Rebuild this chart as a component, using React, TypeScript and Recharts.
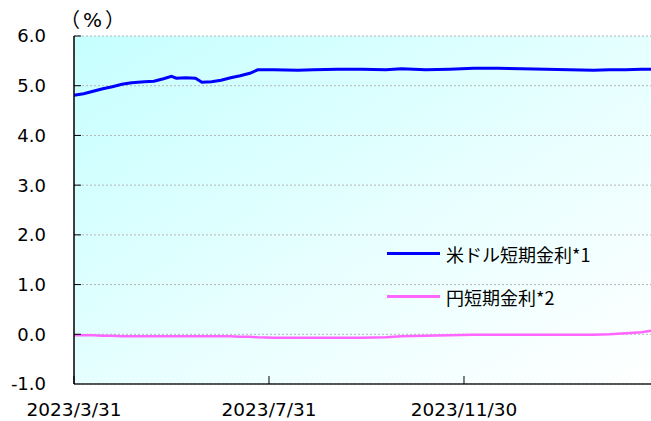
import { CartesianGrid, Legend, Line, LineChart, XAxis, YAxis } from 'recharts';

// Days elapsed since 2023/3/31.
const DAYS = [
  0, 6, 12, 18, 24, 30, 36, 44, 50, 56, 61, 64, 70, 76, 80, 86, 92, 98, 104, 110,
  115, 125, 140, 150, 165, 180, 195, 205, 220, 235, 250, 265, 280, 295, 310, 325,
  335, 345, 355, 361,
];
const USD = [
  4.81, 4.84, 4.89, 4.94, 4.98, 5.03, 5.06, 5.08, 5.09, 5.14, 5.19, 5.15, 5.16, 5.15, 5.07, 5.08, 5.11, 5.16, 5.2, 5.25,
  5.32, 5.32, 5.31, 5.32, 5.33, 5.33, 5.32, 5.34, 5.32, 5.33, 5.35, 5.35, 5.34, 5.33, 5.32, 5.31,
  5.32, 5.32, 5.33, 5.33,
];
const JPY = [
  -0.02, -0.02, -0.02, -0.03, -0.03, -0.04, -0.04, -0.04, -0.04, -0.04, -0.04, -0.04, -0.04, -0.04, -0.04, -0.04, -0.04, -0.04, -0.05, -0.05,
  -0.06, -0.07, -0.07, -0.07, -0.07, -0.07, -0.06, -0.04, -0.03, -0.02, -0.01, -0.01, -0.01, -0.01, -0.01, -0.01,
  0.0, 0.02, 0.04, 0.07,
];
const X_TICKS = [0, 122, 244];
const X_LABELS = ['2023/3/31', '2023/7/31', '2023/11/30'];
const Y_TICKS = [-1, 0, 1, 2, 3, 4, 5, 6];
const SERIES = ['米ドル短期金利*1', '円短期金利*2'];

const BLUE = '#0000ff';
const PINK = '#ff66ff';
const FONT = '"DejaVu Sans", sans-serif';
const JP_FONT = '"Noto Sans CJK JP", sans-serif';

const data = DAYS.map((d, i) => ({ day: d, usd: USD[i], jpy: JPY[i] }));

function YTick({ x, y, payload }: any) {
  return (
    <g>
      {payload.value !== -1 && <line x1={x} x2={x + 7} y1={y} y2={y} stroke="#000" />}
      <text x={x - 28} y={y} dy="0.36em" textAnchor="end" fontSize={18} fontFamily={FONT} fill="#000">
        {Number(payload.value).toFixed(1)}
      </text>
    </g>
  );
}

function XTick({ x, y, payload }: any) {
  const i = X_TICKS.indexOf(payload.value);
  return (
    <g>
      <line x1={x} x2={x} y1={y} y2={y - 8} stroke="#000" />
      <text x={x} y={y + 32} textAnchor="middle" fontSize={18.5} fontFamily={FONT} fill="#000">
        {X_LABELS[i]}
      </text>
    </g>
  );
}

function LegendBox() {
  const row = (name: string, color: string, w: number) => (
    <div key={name} style={{ display: 'flex', alignItems: 'center', height: 43 }}>
      <span style={{ display: 'inline-block', width: 53, height: w, background: color, marginRight: 6 }} />
      <span style={{ fontFamily: JP_FONT, fontSize: 18, color: '#000' }}>{name}</span>
    </div>
  );
  return (
    <div>
      {row(SERIES[0], BLUE, 3)}
      {row(SERIES[1], PINK, 3)}
    </div>
  );
}

export default function App() {
  return (
    <div style={{ position: 'fixed', left: 0, top: 0, width: 651, height: 421, background: '#fff' }}>
      <LineChart width={651} height={421} data={data} margin={{ top: 36, right: 0, bottom: 0, left: 0 }}>
        <defs>
          <linearGradient id="bgGrad" x1="0" y1="0" x2="1" y2="1">
            <stop offset="0%" stopColor="#c6ffff" />
            <stop offset="55%" stopColor="#e8ffff" />
            <stop offset="100%" stopColor="#ffffff" />
          </linearGradient>
        </defs>
        <CartesianGrid vertical={false} stroke="#b4b4b4" strokeDasharray="2 2" fill="url(#bgGrad)" />
        <XAxis
          dataKey="day"
          type="number"
          domain={[0, 361]}
          ticks={X_TICKS}
          height={37}
          tickSize={0}
          tickMargin={0}
          tickLine={false}
          axisLine={{ stroke: '#222', strokeWidth: 1.5 }}
          tick={<XTick />}
          interval={0}
        />
        <YAxis
          type="number"
          domain={[-1, 6]}
          ticks={Y_TICKS}
          width={74}
          tickSize={0}
          tickMargin={0}
          tickLine={false}
          axisLine={{ stroke: '#000', strokeWidth: 1.5 }}
          tick={<YTick />}
          interval={0}
        />
        <Legend
          layout="vertical"
          align="center"
          verticalAlign="middle"
          content={<LegendBox />}
          wrapperStyle={{ position: 'absolute', left: 387, top: 232, width: 250 }}
        />
        <Line dataKey="usd" name={SERIES[0]} stroke={BLUE} strokeWidth={3} dot={false} isAnimationActive={false} />
        <Line dataKey="jpy" name={SERIES[1]} stroke={PINK} strokeWidth={2.5} dot={false} isAnimationActive={false} />
        <text x={60} y={27} fontSize={20} fontFamily={JP_FONT} fill="#000">
          <tspan>（</tspan>
          <tspan dx={3} fontFamily={FONT}>%</tspan>
          <tspan dx={3}>）</tspan>
        </text>
      </LineChart>
    </div>
  );
}
